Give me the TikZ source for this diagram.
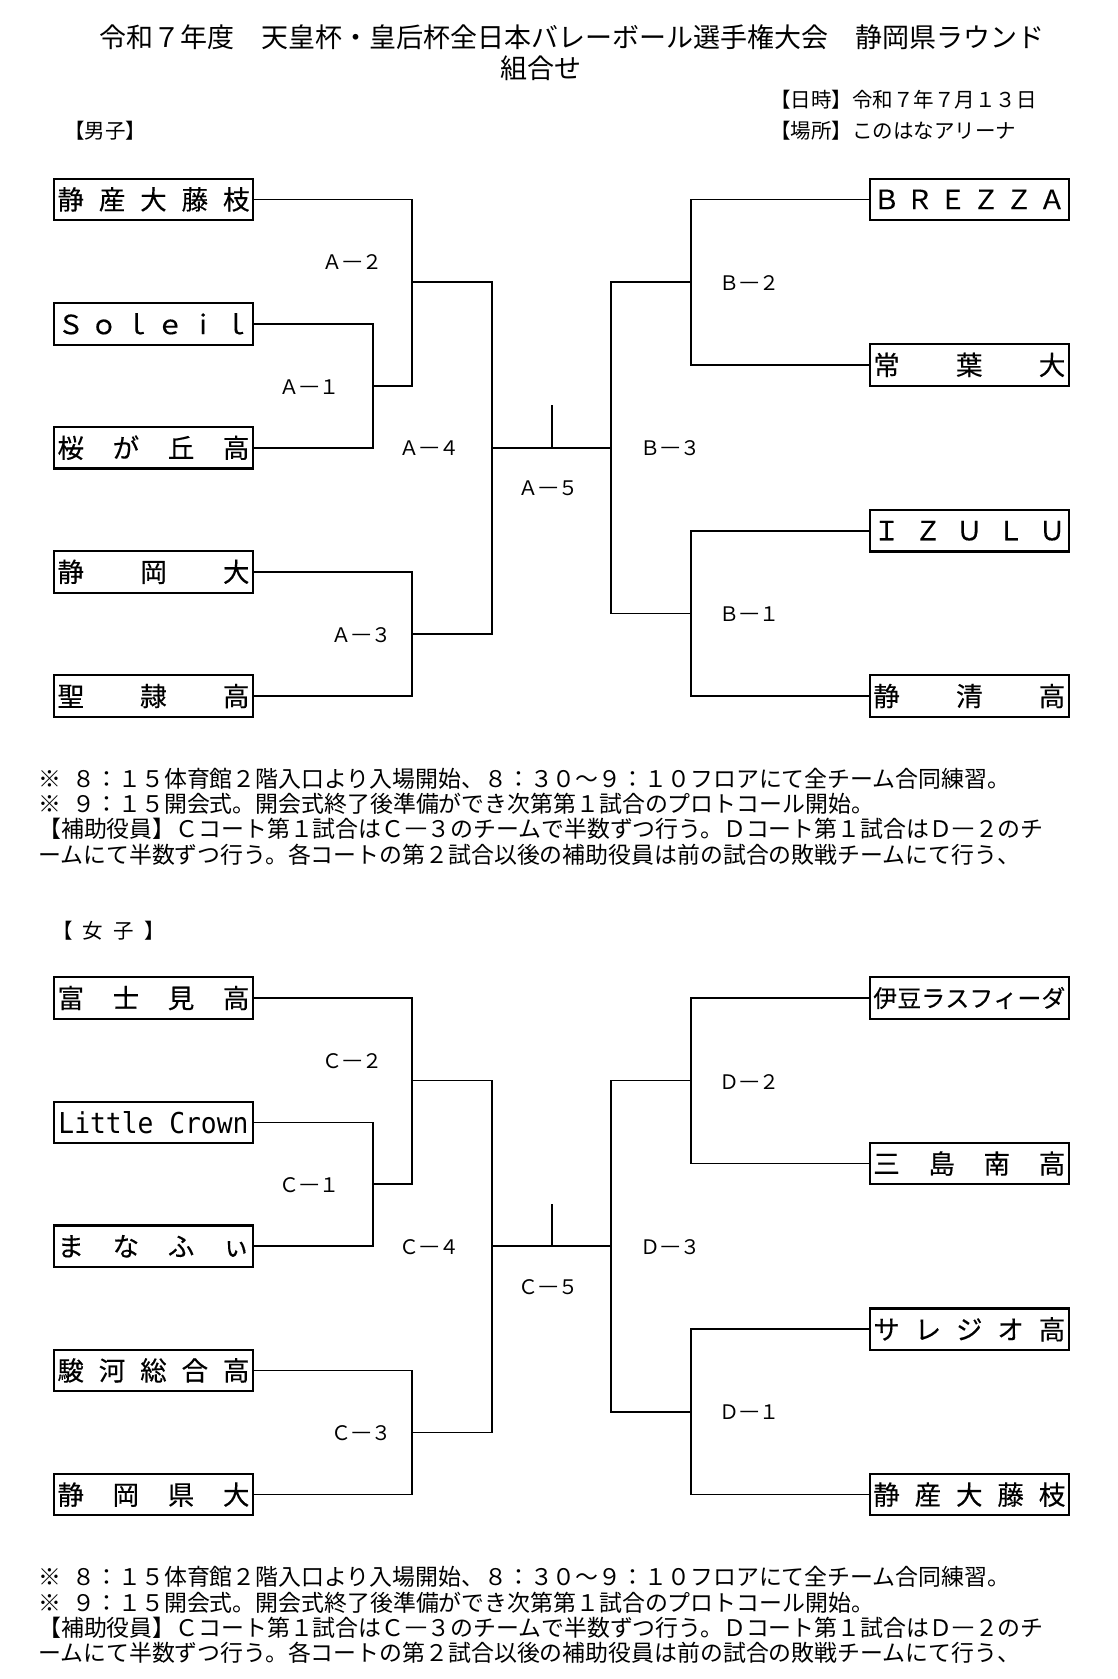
\documentclass[tikz,border=0pt]{standalone}
\usepackage{graphicx}
\usepackage{fontspec}
\setmainfont{Noto Sans CJK JP}
\newfontfamily\teamf[FakeBold=0.3]{Noto Sans CJK JP}
\newfontfamily\monofont{DejaVu Sans Mono}
\newcommand{\dist}[1]{\makebox[192pt]{#1}}
\newcommand{\ldash}{\makebox[1em]{\resizebox{1.22em}{\height}{－}}}
\newcommand{\bracket}[4]{%
\begin{scope}[shift={(0,#4)}]
  \node[team] (#1l1) at (153.5,199.4) {\tA};
  \node[team] (#1l2) at (153.5,323.8) {\tB};
  \node[team] (#1l3) at (153.5,447.7) {\tC};
  \node[team] (#1l4) at (153.5,571.8) {\tD};
  \node[team] (#1l5) at (153.5,696) {\tE};
  \node[team] (#1r1) at (969.3,199.4) {\tF};
  \node[team] (#1r2) at (969.3,364.9) {\tG};
  \node[team] (#1r3) at (969.3,530.7) {\tH};
  \node[team] (#1r4) at (969.3,696) {\tI};
  \coordinate (#1j1) at (373,385.7);
  \coordinate (#1j2) at (411.8,281.8);
  \coordinate (#1j3) at (411.8,633.9);
  \coordinate (#1j4) at (491.8,447.7);
  \coordinate (#1j5) at (552,447.7);
  \coordinate (#1j5t) at (552,405);
  \coordinate (#1k3) at (610.7,447.7);
  \coordinate (#1k2) at (690.7,281.8);
  \coordinate (#1k1) at (690.7,613.4);
  \draw[wire] (#1l2.east) -| (#1j1) |- (#1l3.east);
  \draw[wire] (#1l1.east) -| (#1j1 -| #1j2) -- (#1j1);
  \draw[wire] (#1l4.east) -| (#1j3) |- (#1l5.east);
  \draw[wire] (#1j2) -| (#1j4) |- (#1j3);
  \draw[wire] (#1j4) -- (#1k3);
  \draw[wire] (#1j5) -- (#1j5t);
  \draw[wire] (#1r1.west) -| (#1k2) |- (#1r2.west);
  \draw[wire] (#1r3.west) -| (#1k1) |- (#1r4.west);
  \draw[wire] (#1k2) -| (#1k3) |- (#1k1);
  \node[lbl] (#1a2) at (322,262.5) {#2\ldash ２};
  \node[lbl] (#1a1) at (279,386.8) {#2\ldash １};
  \node[lbl] (#1a4) at (399,448.6) {#2\ldash ４};
  \node[lbl] (#1a3) at (331.6,635) {#2\ldash ３};
  \node[lbl] (#1a5) at (518,488.6) {#2\ldash ５};
  \node[lbl] (#1b2) at (719,283) {#3\ldash ２};
  \node[lbl] (#1b3) at (640,448.6) {#3\ldash ３};
  \node[lbl] (#1b1) at (719,614) {#3\ldash １};
  \node[note] (#1n1) at (38,778.6) {※\hspace{0.5em}８：１５体育館２階入口より入場開始、８：３０～９：１０フロアにて全チーム合同練習。};
  \node[note] (#1n2) at (38,803.9) {※\hspace{0.5em}９：１５開会式。開会式終了後準備ができ次第第１試合のプロトコール開始。};
  \node[note] (#1n3) at (38,829.2) {【補助役員】Ｃコート第１試合はＣ\ldash ３のチームで半数ずつ行う。Ｄコート第１試合はＤ\ldash ２のチ};
  \node[note] (#1n4) at (38,854.6) {ームにて半数ずつ行う。各コートの第２試合以後の補助役員は前の試合の敗戦チームにて行う、};
\end{scope}}
\begin{document}
\begin{tikzpicture}[x=1pt,y=-1pt,
  team/.style={draw,line width=2.1pt,minimum width=199pt,minimum height=41.6pt,inner sep=0pt,font=\teamf\fontsize{26.5}{28}\selectfont},
  wire/.style={line width=1.7pt},
  lbl/.style={anchor=west,inner sep=0pt,font=\fontsize{20}{22}\selectfont},
  note/.style={anchor=west,inner sep=0pt,font=\fontsize{22.9}{25}\selectfont},
  head/.style={anchor=west,inner sep=0pt,font=\fontsize{20.5}{22}\selectfont},
  ttl/.style={anchor=west,inner sep=0pt,font=\fontsize{27}{29}\selectfont}]
\useasboundingbox (0,0) rectangle (1118,1679);
\fill[white] (0,0) rectangle (1118,1679);
\node[ttl] (title) at (99,37.5) {令和７年度　天皇杯・皇后杯全日本バレーボール選手権大会　静岡県ラウンド};
\node[ttl] (sub) at (500,68) {組合せ};
\node[head] (date) at (770,100) {【日時】令和７年７月１３日};
\node[head] (place) at (770,130.4) {【場所】このはなアリーナ};
\node[head] (men) at (64,131) {【男子】};
\node[head] (women) at (52,931) {【\hspace{0.5em}女\hspace{0.5em}子\hspace{0.5em}】};
% men
\def\tA{\dist{静\hfill 産\hfill 大\hfill 藤\hfill 枝}}
\def\tB{\dist{Ｓ\hfill ｏ\hfill ｌ\hfill ｅ\hfill ｉ\hfill ｌ}}
\def\tC{\dist{桜\hfill が\hfill 丘\hfill 高}}
\def\tD{\dist{静\hfill 岡\hfill 大}}
\def\tE{\dist{聖\hfill 隷\hfill 高}}
\def\tF{\dist{Ｂ\hfill Ｒ\hfill Ｅ\hfill Ｚ\hfill Ｚ\hfill Ａ}}
\def\tG{\dist{常\hfill 葉\hfill 大}}
\def\tH{\dist{Ｉ\hfill Ｚ\hfill Ｕ\hfill Ｌ\hfill Ｕ}}
\def\tI{\dist{静\hfill 清\hfill 高}}
\bracket{m}{Ａ}{Ｂ}{0}
% women
\def\tA{\dist{富\hfill 士\hfill 見\hfill 高}}
\def\tB{\resizebox{190pt}{22pt}{\monofont Little Crown}}
\def\tC{\dist{ま\hfill な\hfill ふ\hfill ぃ}}
\def\tD{\dist{駿\hfill 河\hfill 総\hfill 合\hfill 高}}
\def\tE{\dist{静\hfill 岡\hfill 県\hfill 大}}
\def\tF{{\fontsize{23.8}{26}\selectfont\dist{伊\hfill 豆\hfill ラ\hfill ス\hfill フ\hfill ィ\hfill ー\hfill ダ}}}
\def\tG{\dist{三\hfill 島\hfill 南\hfill 高}}
\def\tH{\dist{サ\hfill レ\hfill ジ\hfill オ\hfill 高}}
\def\tI{\dist{静\hfill 産\hfill 大\hfill 藤\hfill 枝}}
\bracket{w}{Ｃ}{Ｄ}{798.6}
\end{tikzpicture}
\end{document}
